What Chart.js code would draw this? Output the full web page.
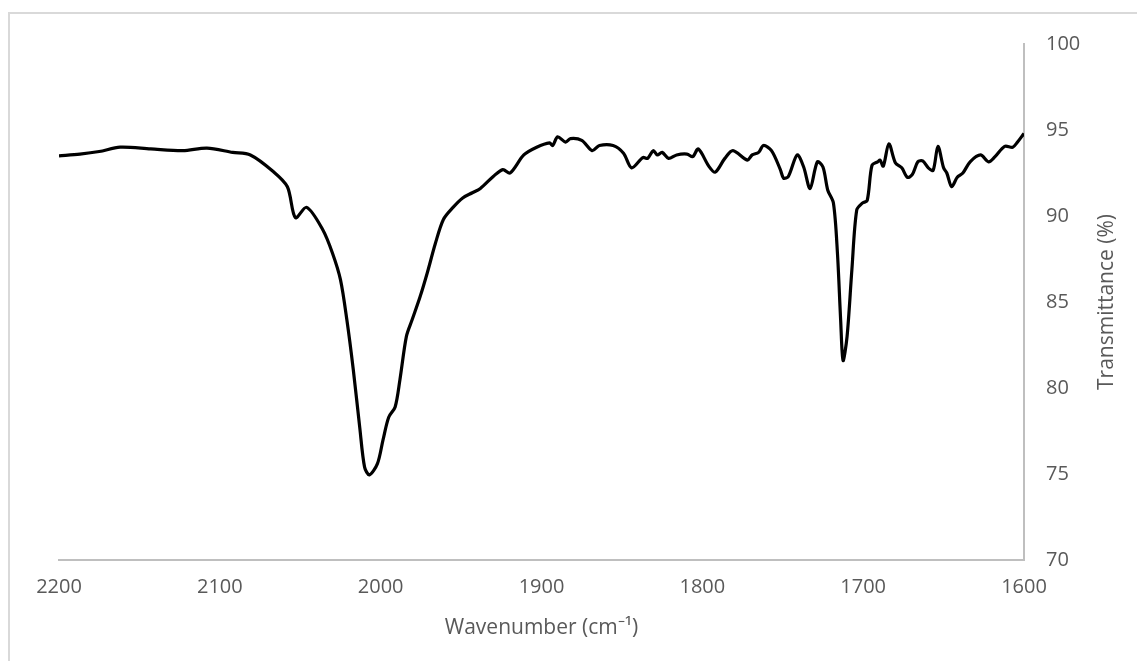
<!DOCTYPE html>
<html>
<head>
<meta charset="utf-8">
<script src="https://cdn.jsdelivr.net/npm/chart.js@4"></script>
<style>
  html, body { margin: 0; padding: 0; background: #fff; }
  #wrap { position: relative; width: 1137px; height: 661px; overflow: hidden; }
  #frame { position: absolute; left: 8px; top: 12px; width: 1200px; height: 700px;
           border-left: 2px solid #d9d9d9; border-top: 2px solid #d9d9d9; }
  canvas { position: absolute; left: 0; top: 0; }
</style>
</head>
<body>
<div id="wrap">
  <div id="frame"></div>
  <canvas id="c" width="1137" height="661"></canvas>
</div>
<script>
const wavenumbers = [
  2200, 2187, 2175, 2162, 2143, 2123, 2108, 2092, 2081, 2067, 2058, 2053, 2046, 2036,
  2030, 2025, 2021, 2017, 2013, 2010, 2007, 2002, 1998.5, 1995, 1991, 1988, 1984, 1980.5,
  1975.5, 1971, 1966, 1961, 1955, 1949, 1943, 1938, 1930, 1924, 1919.5, 1911, 1903, 1895,
  1893, 1890, 1885, 1882, 1875, 1868.5, 1864, 1855.5, 1849, 1844, 1837, 1834, 1830.5, 1828,
  1825, 1821, 1816, 1809.5, 1806, 1802.5, 1796, 1792, 1786, 1781, 1772, 1769, 1765, 1762,
  1757, 1751.5, 1749.5, 1746.5, 1741, 1737, 1733, 1728.5, 1725, 1722, 1718.5, 1716, 1714,
  1712.5, 1710, 1707, 1704, 1700.5, 1697.5, 1694.5, 1691, 1689.5, 1687.5, 1684, 1680, 1676,
  1672.5, 1669.5, 1666, 1663, 1659.5, 1656.5, 1653.5, 1650, 1648, 1645, 1641.5, 1638, 1633.5,
  1627, 1622, 1618, 1612, 1607, 1604, 1600
];
const transmittance = [
  93.5, 93.6, 93.75, 94.0, 93.9, 93.8, 93.95, 93.7, 93.55, 92.6, 91.7, 89.9, 90.5, 89.2,
  87.85, 86.3, 83.95, 81.05, 77.7, 75.4, 74.95, 75.6, 77.0, 78.3, 78.9, 80.5, 83.0, 83.95,
  85.3, 86.7, 88.4, 89.8, 90.5, 91.05, 91.35, 91.6, 92.3, 92.7, 92.5, 93.55, 94.0, 94.25,
  94.1, 94.6, 94.3, 94.5, 94.4, 93.8, 94.1, 94.1, 93.65, 92.8, 93.4, 93.35, 93.8, 93.55,
  93.7, 93.35, 93.55, 93.6, 93.45, 93.9, 92.9, 92.55, 93.35, 93.8, 93.25, 93.55, 93.7, 94.1,
  93.8, 92.7, 92.2, 92.3, 93.55, 92.85, 91.6, 93.15, 92.85, 91.5, 90.75, 87.85, 83.95,
  81.6, 83.0, 86.9, 90.35, 90.75, 90.9, 92.95, 93.15, 93.25, 92.9, 94.2, 93.1, 92.8,
  92.25, 92.4, 93.15, 93.2, 92.8, 92.65, 94.05, 92.8, 92.5, 91.7, 92.25, 92.5, 93.15,
  93.55, 93.15, 93.45, 94.05, 94.0, 94.3, 94.8
];
const xTitle = 'Wavenumber (cm\u207B\u00B9)';
const yTitle = 'Transmittance (%)';
const xMin = 1600, xMax = 2200, xStep = 100;
const yMin = 70, yMax = 100, yStep = 5;

const FONT = '"Open Sans", sans-serif';
const TEXT = '#595959';
const AXIS = '#bfbfbf';
const TICK_SIZE = 20;
const TITLE_SIZE = 21;

const points = wavenumbers.map((w, i) => ({ x: w, y: transmittance[i] }));

const yTitlePlugin = {
  id: 'yTitle',
  afterDraw(chart) {
    const { ctx, chartArea } = chart;
    const ys = chart.scales.y;
    ctx.save();
    ctx.fillStyle = TEXT;
    ctx.font = TITLE_SIZE + 'px ' + FONT;
    ctx.textAlign = 'center';
    ctx.textBaseline = 'middle';
    ctx.translate(ys.left + 83, (chartArea.top + chartArea.bottom) / 2);
    ctx.rotate(-Math.PI / 2);
    ctx.fillText(yTitle, 0, 0);
    ctx.restore();
  }
};

new Chart(document.getElementById('c'), {
  type: 'line',
  data: {
    datasets: [{
      data: points,
      borderColor: '#000',
      borderWidth: 3.2,
      pointRadius: 0,
      tension: 0.3,
      fill: false
    }]
  },
  options: {
    responsive: false,
    animation: false,
    events: [],
    layout: { padding: { left: 59, top: 44, right: 0, bottom: 0 } },
    plugins: { legend: { display: false }, tooltip: { enabled: false } },
    scales: {
      x: {
        type: 'linear',
        reverse: true,
        min: xMin, max: xMax,
        grid: { display: false, drawTicks: false },
        border: { display: true, color: AXIS, width: 2 },
        ticks: { stepSize: xStep, color: TEXT, font: { family: FONT, size: TICK_SIZE }, padding: 15, maxRotation: 0,
                 callback: v => String(v) },
        title: { display: true, text: xTitle, color: TEXT, font: { family: FONT, size: TITLE_SIZE }, padding: { top: 0, bottom: 20 } },
        afterFit(s) { s.height = 101; }
      },
      y: {
        type: 'linear',
        position: 'right',
        min: yMin, max: yMax,
        grid: { display: false, drawTicks: false },
        border: { display: true, color: AXIS, width: 2 },
        ticks: { stepSize: yStep, color: TEXT, font: { family: FONT, size: TICK_SIZE }, padding: 22,
                 callback: v => String(v) },
        afterFit(s) { s.width = 113; }
      }
    }
  },
  plugins: [yTitlePlugin]
});
</script>
</body>
</html>
